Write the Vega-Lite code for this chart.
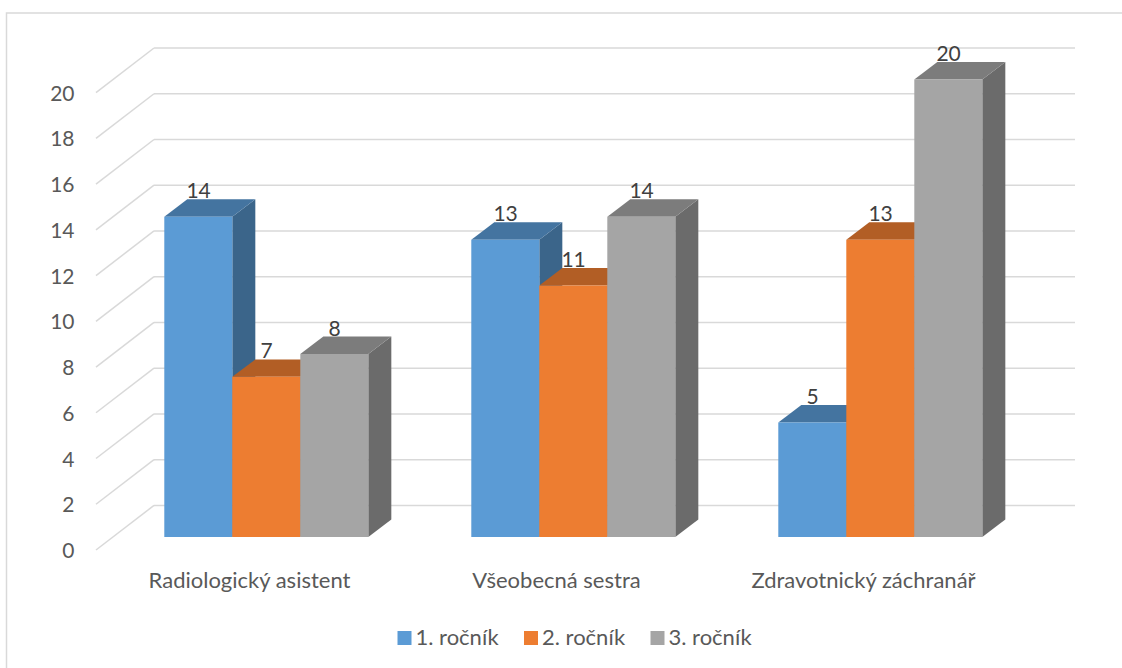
{
  "$schema": "https://vega.github.io/schema/vega-lite/v6.json",
  "width": 1120,
  "height": 660,
  "autosize": {"type": "none"},
  "padding": {"left": 6.5, "top": 13, "right": 0, "bottom": 0},
  "background": "white",
  "view": {"stroke": "#D9D9D9", "strokeWidth": 1.5},
  "config": {"font": "Lato"},
  "data": {
    "values": [
      {"obor": "Radiologický asistent", "rocnik": "1. ročník", "pocet": 14},
      {"obor": "Radiologický asistent", "rocnik": "2. ročník", "pocet": 7},
      {"obor": "Radiologický asistent", "rocnik": "3. ročník", "pocet": 8},
      {"obor": "Všeobecná sestra", "rocnik": "1. ročník", "pocet": 13},
      {"obor": "Všeobecná sestra", "rocnik": "2. ročník", "pocet": 11},
      {"obor": "Všeobecná sestra", "rocnik": "3. ročník", "pocet": 14},
      {"obor": "Zdravotnický záchranář", "rocnik": "1. ročník", "pocet": 5},
      {"obor": "Zdravotnický záchranář", "rocnik": "2. ročník", "pocet": 13},
      {"obor": "Zdravotnický záchranář", "rocnik": "3. ročník", "pocet": 20}
    ]
  },
  "transform": [
    {"calculate": "indexof(['Radiologický asistent','Všeobecná sestra','Zdravotnický záchranář'], datum.obor)", "as": "kat"},
    {"calculate": "indexof(['1. ročník','2. ročník','3. ročník'], datum.rocnik)", "as": "rada"},
    {"calculate": "datum.kat + 0.2225 + 0.2215 * datum.rada", "as": "x0"},
    {"calculate": "datum.x0 + 0.2215", "as": "x1"},
    {"calculate": "0.57", "as": "yb"},
    {"calculate": "datum.pocet + 0.57", "as": "yt"},
    {"calculate": "datum.obor + datum.rocnik", "as": "klic"}
  ],
  "layer": [
    {
      "description": "Slanted side-wall segment of each tick, carrying the value axis",
      "data": {"values": [{"v": 0}, {"v": 2}, {"v": 4}, {"v": 6}, {"v": 8}, {"v": 10}, {"v": 12}, {"v": 14}, {"v": 16}, {"v": 18}, {"v": 20}]},
      "transform": [
        {"calculate": "datum.v + 1.95", "as": "vz"},
        {"calculate": "0", "as": "a"},
        {"calculate": "0.189", "as": "b"}
      ],
      "mark": {"type": "rule", "color": "#D9D9D9", "strokeWidth": 1.5},
      "encoding": {
        "x": {"field": "a", "type": "quantitative", "axis": null, "scale": {"domain": [-0.2915, 3.3567], "nice": false, "zero": false}},
        "x2": {"field": "b"},
        "y": {
          "field": "v",
          "type": "quantitative",
          "scale": {"domain": [-5.378, 23.48], "nice": false, "zero": false},
          "axis": {
            "values": [0, 2, 4, 6, 8, 10, 12, 14, 16, 18, 20],
            "title": null,
            "domain": false,
            "ticks": false,
            "grid": false,
            "offset": -70,
            "labelPadding": 2.5,
            "labelOffset": 1.5,
            "labelFontSize": 21,
            "labelColor": "#595959",
            "labelFont": "Lato"
          }
        },
        "y2": {"field": "vz"}
      }
    },
    {
      "description": "Back wall gridlines",
      "data": {"values": [{"v": 0}, {"v": 2}, {"v": 4}, {"v": 6}, {"v": 8}, {"v": 10}, {"v": 12}, {"v": 14}, {"v": 16}, {"v": 18}, {"v": 20}]},
      "transform": [
        {"calculate": "datum.v + 1.95", "as": "vz"},
        {"calculate": "0.189", "as": "b"},
        {"calculate": "3.189", "as": "c"}
      ],
      "mark": {"type": "rule", "color": "#D9D9D9", "strokeWidth": 1.5},
      "encoding": {
        "x": {"field": "b", "type": "quantitative"},
        "x2": {"field": "c"},
        "y": {"field": "vz", "type": "quantitative"}
      }
    },
    {
      "description": "Right-hand side faces of the columns",
      "transform": [
        {"calculate": "[0, 1]", "as": "t"},
        {"flatten": ["t"]},
        {"calculate": "datum.x1 + datum.t * 0.075", "as": "sx"},
        {"calculate": "datum.yb + datum.t * 0.765", "as": "s0"},
        {"calculate": "datum.yt + datum.t * 0.765", "as": "s1"}
      ],
      "mark": {"type": "area", "interpolate": "linear", "opacity": 1},
      "encoding": {
        "x": {"field": "sx", "type": "quantitative"},
        "y": {"field": "s1", "type": "quantitative"},
        "y2": {"field": "s0"},
        "detail": {"field": "klic"},
        "color": {
          "field": "rocnik",
          "type": "nominal",
          "legend": null,
          "scale": {"domain": ["1. ročník", "2. ročník", "3. ročník"], "range": ["#3B658A", "#9A5120", "#6B6B6B"]}
        }
      }
    },
    {
      "description": "Top faces of the columns",
      "transform": [
        {"calculate": "[0, 1]", "as": "t"},
        {"flatten": ["t"]},
        {"calculate": "datum.x0 + datum.t * 0.075", "as": "t0"},
        {"calculate": "datum.x1 + datum.t * 0.075", "as": "t1"},
        {"calculate": "datum.yt + datum.t * 0.765", "as": "ty"}
      ],
      "mark": {"type": "area", "orient": "horizontal", "interpolate": "linear", "opacity": 1},
      "encoding": {
        "y": {"field": "ty", "type": "quantitative"},
        "x": {"field": "t0", "type": "quantitative"},
        "x2": {"field": "t1"},
        "detail": {"field": "klic"},
        "color": {
          "field": "rocnik",
          "type": "nominal",
          "legend": null,
          "scale": {"domain": ["1. ročník", "2. ročník", "3. ročník"], "range": ["#4474A0", "#B25E25", "#7C7C7C"]}
        }
      }
    },
    {
      "description": "Front faces of the columns, carrying the legend",
      "mark": {"type": "rect"},
      "encoding": {
        "x": {"field": "x0", "type": "quantitative"},
        "x2": {"field": "x1"},
        "y": {"field": "yb", "type": "quantitative"},
        "y2": {"field": "yt"},
        "color": {
          "field": "rocnik",
          "type": "nominal",
          "scale": {"domain": ["1. ročník", "2. ročník", "3. ročník"], "range": ["#5B9BD5", "#ED7D31", "#A5A5A5"]},
          "legend": {
            "orient": "none",
            "legendX": 387,
            "legendY": 614,
            "direction": "horizontal",
            "title": null,
            "symbolType": "square",
            "symbolSize": 196,
            "symbolStrokeWidth": 0,
            "labelFontSize": 22,
            "labelColor": "#595959",
            "labelFont": "Lato",
            "labelOffset": 0,
            "columnPadding": 20.5
          }
        }
      }
    },
    {
      "description": "Value labels above the columns",
      "transform": [
        {"calculate": "(datum.x0 + datum.x1) / 2 + 0.001", "as": "lx"},
        {"calculate": "datum.yt + 1.07", "as": "ly"}
      ],
      "mark": {"type": "text", "fontSize": 21, "color": "#404040", "font": "Lato", "baseline": "middle", "align": "center"},
      "encoding": {
        "x": {"field": "lx", "type": "quantitative"},
        "y": {"field": "ly", "type": "quantitative"},
        "text": {"field": "pocet", "type": "quantitative"}
      }
    },
    {
      "description": "Category names beneath each group of columns",
      "transform": [
        {"filter": "datum.rada === 0"},
        {"calculate": "datum.kat + 0.5", "as": "lx"},
        {"calculate": "-1.36", "as": "ly"}
      ],
      "mark": {"type": "text", "fontSize": 22, "color": "#595959", "font": "Lato", "baseline": "middle", "align": "center"},
      "encoding": {
        "x": {"field": "lx", "type": "quantitative"},
        "y": {"field": "ly", "type": "quantitative"},
        "text": {"field": "obor", "type": "nominal"}
      }
    }
  ],
  "resolve": {"scale": {"color": "independent"}}
}
